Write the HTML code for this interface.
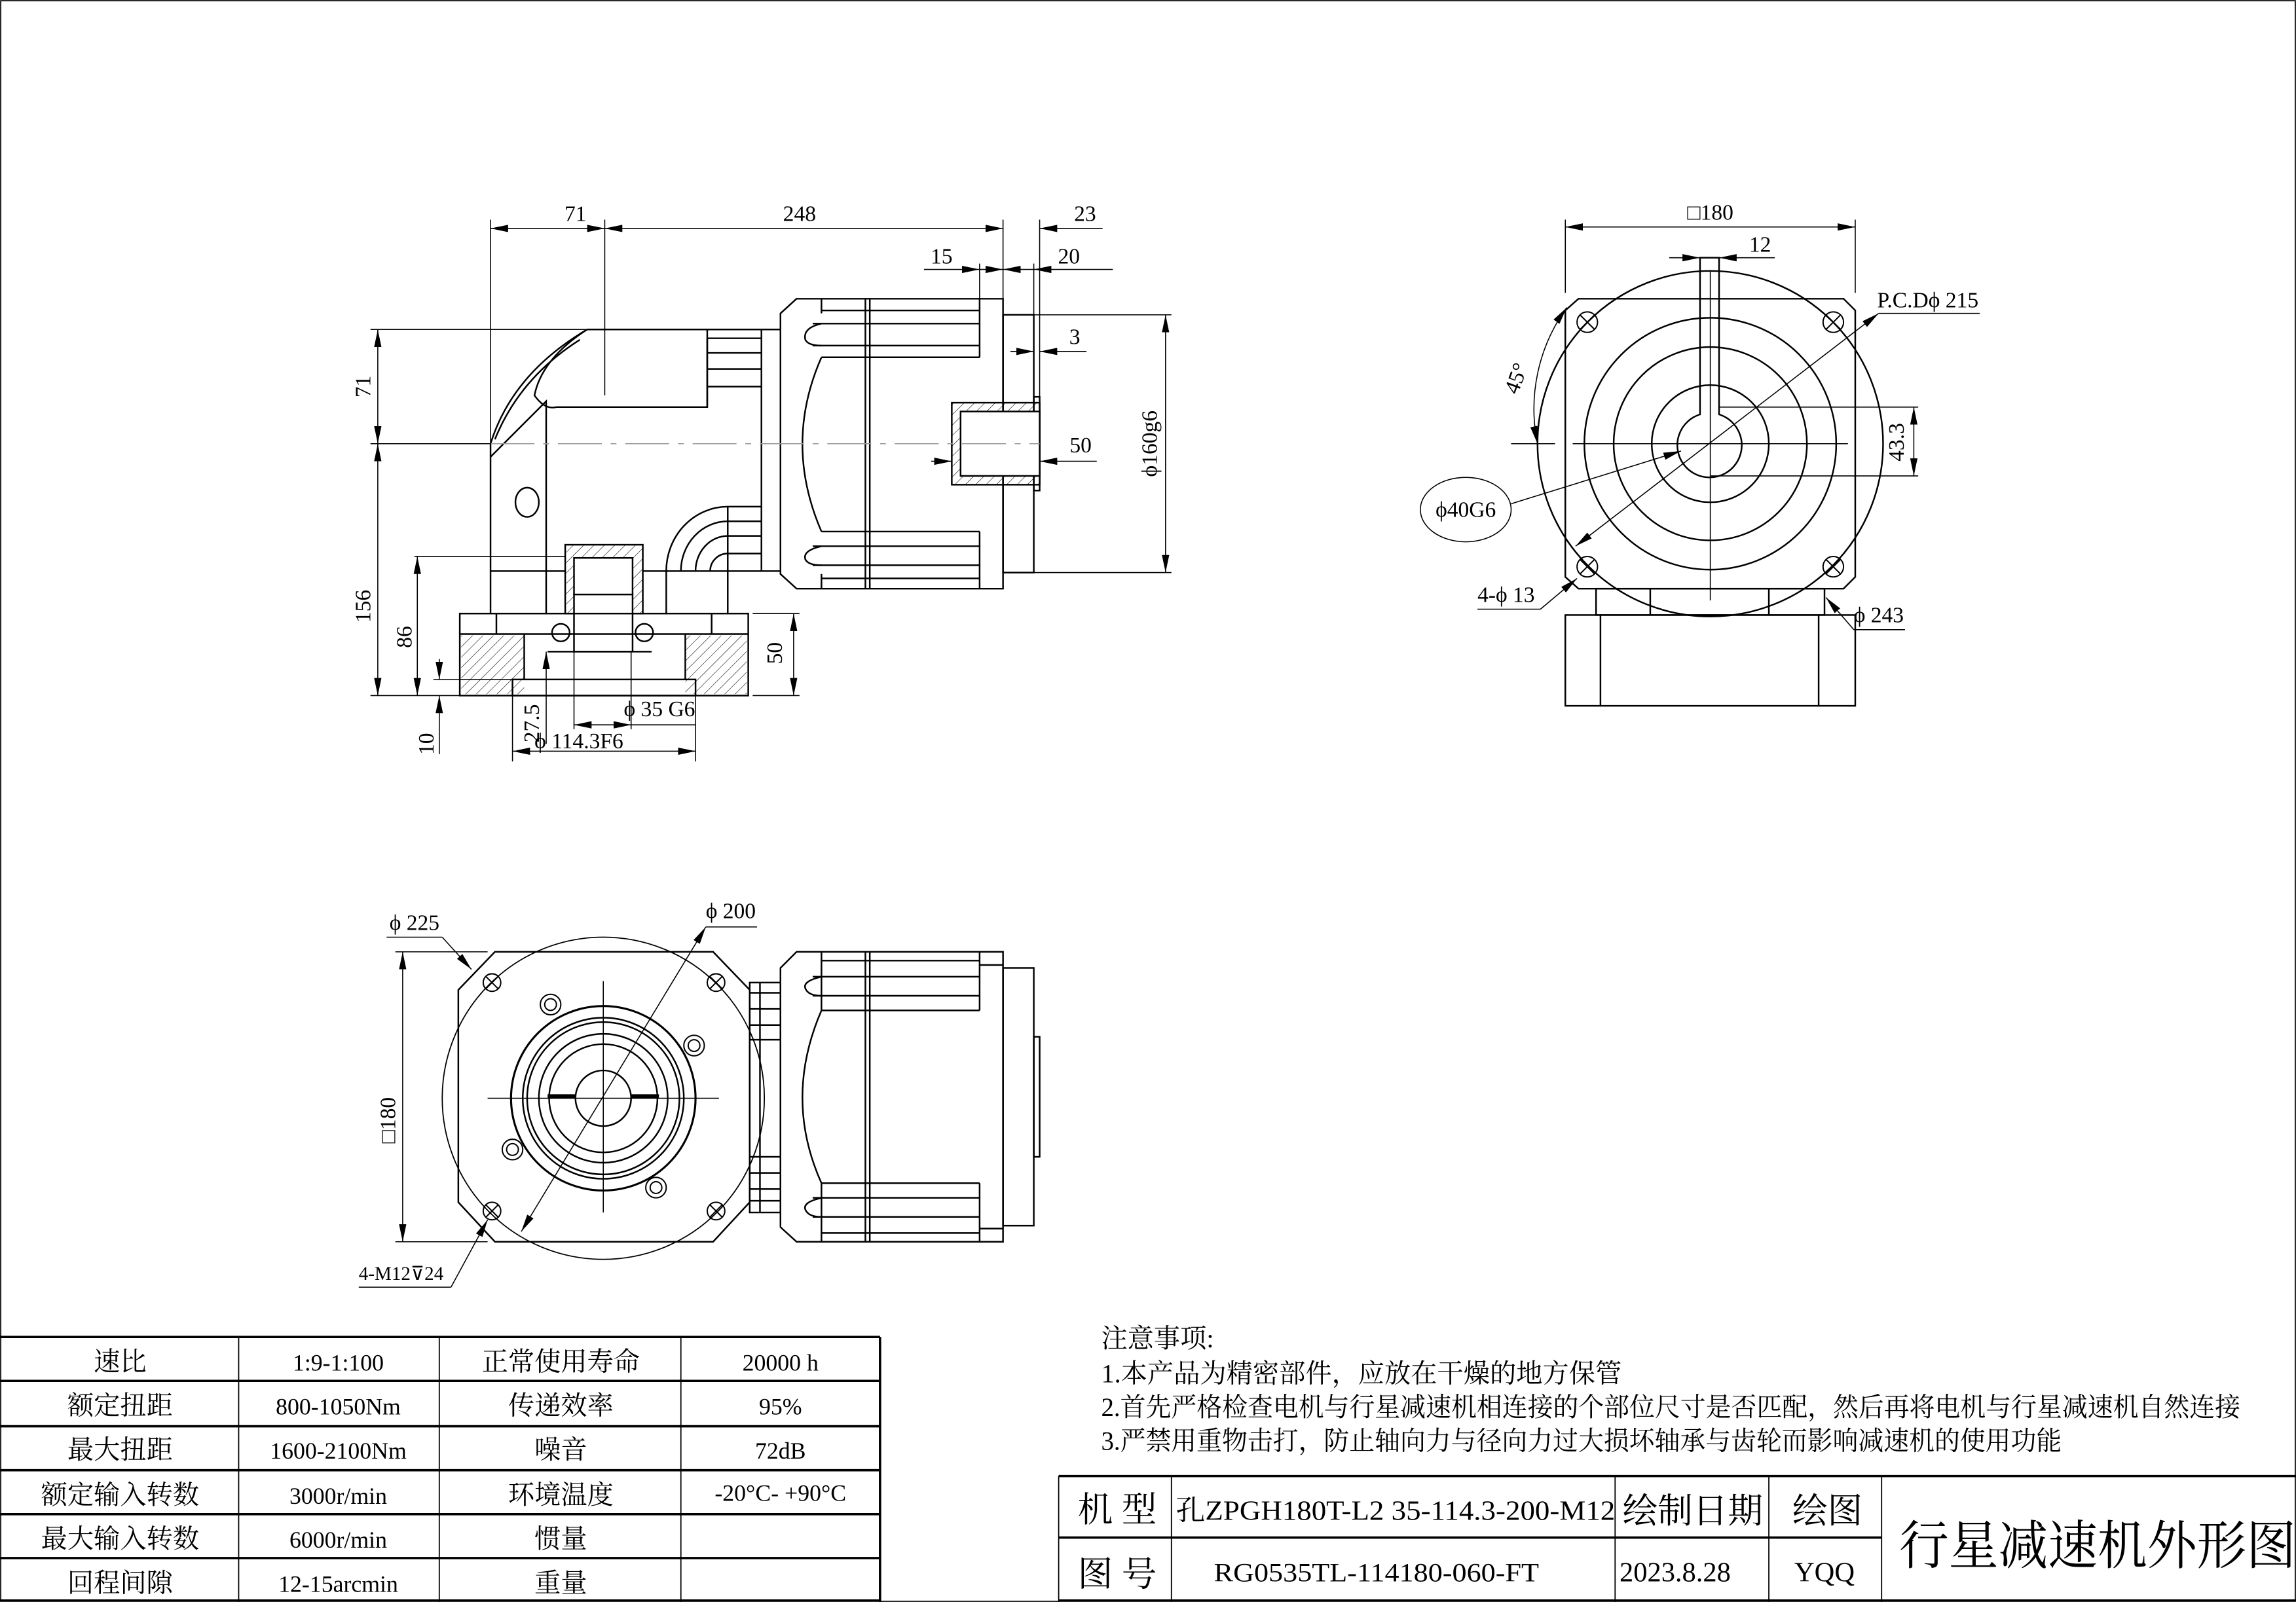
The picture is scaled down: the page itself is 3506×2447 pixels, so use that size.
<!DOCTYPE html>
<html><head><meta charset="utf-8"><style>
html,body{margin:0;padding:0;background:#fff}
svg{display:block}
text{font-family:"Liberation Serif","Noto Serif CJK SC","Noto Sans CJK SC",serif;fill:#000}
.c{font-family:"Liberation Sans","Noto Sans CJK SC",sans-serif}
</style></head><body>
<svg width="3506" height="2447" viewBox="0 0 1568 1094" preserveAspectRatio="none" xmlns="http://www.w3.org/2000/svg">
<defs>
<marker id="a" markerUnits="userSpaceOnUse" markerWidth="12" markerHeight="6" refX="12" refY="3" orient="auto-start-reverse"><path d="M0,0.5 L12,3 L0,5.5z" fill="#000"/></marker>
<pattern id="h" patternUnits="userSpaceOnUse" width="5" height="5" patternTransform="rotate(45)"><line x1="0" y1="0" x2="0" y2="5" stroke="#000" stroke-width="0.5"/></pattern>
</defs>
<rect x="0.5" y="0.5" width="1567" height="1093" fill="none" stroke="#000" stroke-width="0.8"/>
<g fill="none" stroke="#000" stroke-width="1.1">
<!-- ===== TOP-LEFT SIDE VIEW ===== -->
<!-- elbow housing -->
<path d="M335,390 L335,303 Q350,255 401,225 L520,225 L520,390"/>
<path d="M338,300 Q355,258 396,232"/>
<path d="M335,312 L373,274 L373,390"/>
<path d="M401,225 Q370,245 365,270 Q372,280 380,278 L483,278 L483,225"/>
<path d="M483,231 L520,231 M483,241 L520,241 M483,252 L520,252 M483,264 L520,264 M483,231 L483,278"/>
<ellipse cx="360" cy="343" rx="8" ry="10"/>
<line x1="335" y1="390" x2="386" y2="390"/>
<line x1="439" y1="390" x2="520" y2="390"/>
<!-- lower elbow -->
<path d="M455,390 A42,44 0 0 1 497,346 L520,346"/>
<path d="M465,390 A32,34 0 0 1 497,356 L520,356"/>
<path d="M475,390 A22,24 0 0 1 497,366 L520,366"/>
<path d="M485,390 A12,12 0 0 1 497,378 L520,378"/>
<line x1="497" y1="346" x2="497" y2="390"/>
<line x1="455" y1="390" x2="455" y2="419"/>
<line x1="497" y1="390" x2="497" y2="419"/>
<line x1="335" y1="390" x2="335" y2="419"/>
<line x1="373" y1="390" x2="373" y2="419"/>
<!-- output shaft block -->
<rect x="386" y="372" width="53" height="47" fill="url(#h)"/>
<rect x="392" y="381" width="40" height="25" fill="#fff"/>
<rect x="392" y="406" width="40" height="39" fill="#fff"/>
<!-- base -->
<rect x="314" y="419" width="197" height="56"/>
<line x1="314" y1="433" x2="511" y2="433"/>
<line x1="339" y1="419" x2="339" y2="433"/>
<line x1="486" y1="419" x2="486" y2="433"/>
<rect x="315" y="434" width="43" height="40" fill="url(#h)" stroke="none"/>
<rect x="468" y="434" width="42" height="40" fill="url(#h)" stroke="none"/>
<line x1="358" y1="433" x2="358" y2="464"/>
<line x1="468" y1="433" x2="468" y2="464"/>
<rect x="350" y="464" width="125" height="11"/>
<line x1="374" y1="445" x2="445" y2="445"/>
<circle cx="383" cy="432" r="6"/><circle cx="440" cy="432" r="6"/>
<!-- flange & motor section -->
<path d="M544,204 L533,214 L533,392 L544,402 L685,402 L685,204 Z"/>
<line x1="591" y1="204" x2="591" y2="402"/><line x1="594" y1="204" x2="594" y2="402"/>
<path d="M561,204 L561,214 M561,402 L561,392"/>
<path d="M561,212 L669,212 M555,221 L669,221 M555,236 L669,236 M561,244 L669,244 M669,204 L669,244"/>
<path d="M561,221 Q548,224 550,232 Q552,236 561,236"/>
<path d="M561,363 L669,363 M555,373 L669,373 M555,386 L669,386 M561,395 L669,395 M669,363 L669,402"/>
<path d="M561,373 Q548,376 550,382 Q552,386 561,386"/>
<path d="M561,244 Q535,303 561,363"/>
<line x1="520" y1="225" x2="533" y2="225"/><line x1="520" y1="390" x2="533" y2="390"/>
<!-- output flange -->
<rect x="685" y="215" width="21" height="176"/>
<rect x="706" y="271" width="4" height="64"/>
<rect x="650" y="275" width="60" height="56" fill="url(#h)"/>
<rect x="656" y="281" width="54" height="44" fill="#fff"/>
</g>
<line x1="335" y1="303" x2="710" y2="303" stroke="#999" stroke-width="0.7" stroke-dasharray="30,6,4,6"/>
<g fill="none" stroke="#000" stroke-width="0.7">
<!-- top dims -->
<line x1="335" y1="150" x2="335" y2="303"/><line x1="413" y1="150" x2="413" y2="270"/>
<line x1="685" y1="150" x2="685" y2="204"/><line x1="710" y1="150" x2="710" y2="271"/>
<line x1="669" y1="180" x2="669" y2="212"/><line x1="706" y1="180" x2="706" y2="215"/>
<line x1="335" y1="156" x2="413" y2="156" marker-start="url(#a)" marker-end="url(#a)"/>
<line x1="413" y1="156" x2="685" y2="156" marker-start="url(#a)" marker-end="url(#a)"/>
<line x1="753" y1="156" x2="710" y2="156" marker-end="url(#a)"/>
<line x1="631" y1="184" x2="669" y2="184" marker-end="url(#a)"/>
<line x1="669" y1="184" x2="685" y2="184" marker-end="url(#a)"/>
<line x1="685" y1="184" x2="706" y2="184" marker-start="url(#a)"/>
<line x1="760" y1="184" x2="706" y2="184" marker-end="url(#a)"/>
<line x1="690" y1="240" x2="706" y2="240" marker-end="url(#a)"/>
<line x1="742" y1="240" x2="710" y2="240" marker-end="url(#a)"/>
<line x1="636" y1="315" x2="650" y2="315" marker-end="url(#a)"/>
<line x1="749" y1="315" x2="710" y2="315" marker-end="url(#a)"/>
<line x1="706" y1="215" x2="800" y2="215"/><line x1="706" y1="391" x2="800" y2="391"/>
<line x1="796" y1="215" x2="796" y2="391" marker-start="url(#a)" marker-end="url(#a)"/>
<!-- left dims -->
<line x1="253" y1="225" x2="401" y2="225"/><line x1="253" y1="303" x2="335" y2="303"/>
<line x1="253" y1="475" x2="314" y2="475"/>
<line x1="258" y1="225" x2="258" y2="303" marker-start="url(#a)" marker-end="url(#a)"/>
<line x1="258" y1="303" x2="258" y2="475" marker-start="url(#a)" marker-end="url(#a)"/>
<line x1="283" y1="380" x2="386" y2="380"/>
<line x1="285" y1="380" x2="285" y2="475" marker-start="url(#a)" marker-end="url(#a)"/>
<line x1="296" y1="464" x2="350" y2="464"/>
<line x1="300" y1="450" x2="300" y2="464" marker-end="url(#a)"/>
<line x1="300" y1="490" x2="300" y2="475" marker-end="url(#a)"/>
<line x1="300" y1="490" x2="300" y2="515"/>
<line x1="373" y1="508" x2="373" y2="445" marker-end="url(#a)"/>
<line x1="350" y1="475" x2="350" y2="520"/><line x1="475" y1="475" x2="475" y2="520"/>
<line x1="392" y1="445" x2="392" y2="498"/><line x1="431" y1="445" x2="431" y2="498"/>
<line x1="392" y1="495" x2="431" y2="495" marker-start="url(#a)" marker-end="url(#a)"/>
<line x1="431" y1="495" x2="475" y2="495"/>
<line x1="350" y1="513" x2="475" y2="513" marker-start="url(#a)" marker-end="url(#a)"/>
<line x1="514" y1="419" x2="546" y2="419"/><line x1="514" y1="475" x2="546" y2="475"/>
<line x1="542" y1="419" x2="542" y2="475" marker-start="url(#a)" marker-end="url(#a)"/>
</g>
<g font-size="15">
<text x="393" y="151" text-anchor="middle">71</text>
<text x="546" y="151" text-anchor="middle">248</text>
<text x="741" y="151" text-anchor="middle">23</text>
<text x="643" y="180" text-anchor="middle">15</text>
<text x="730" y="180" text-anchor="middle">20</text>
<text x="734" y="235" text-anchor="middle">3</text>
<text x="738" y="309" text-anchor="middle">50</text>
<text transform="translate(790,303) rotate(-90)" text-anchor="middle">ϕ160g6</text>
<text transform="translate(253,264) rotate(-90)" text-anchor="middle">71</text>
<text transform="translate(253,414) rotate(-90)" text-anchor="middle">156</text>
<text transform="translate(281,435) rotate(-90)" text-anchor="middle">86</text>
<text transform="translate(296,508) rotate(-90)" text-anchor="middle">10</text>
<text transform="translate(368,494) rotate(-90)" text-anchor="middle">27.5</text>
<text transform="translate(534,446) rotate(-90)" text-anchor="middle">50</text>
<text x="426" y="489">ϕ 35 G6</text>
<text x="365" y="511">ϕ 114.3F6</text>
</g>

<!-- ===== TOP-RIGHT FRONT VIEW ===== -->
<g fill="none" stroke="#000" stroke-width="1.1">
<path d="M1078,204 L1259,204 L1267,212 L1267,394 L1259,402 L1078,402 L1069,394 L1069,212 Z"/>
<circle cx="1168" cy="303" r="118"/>
<circle cx="1168" cy="303" r="86"/>
<circle cx="1168" cy="303" r="66"/>
<circle cx="1168" cy="303" r="40"/>
<path d="M1161,283 A22,22 0 1 0 1174,283 L1174,176 L1161,176 Z"/>
<rect x="1090" y="402" width="156" height="18"/>
<line x1="1127" y1="402" x2="1127" y2="420"/><line x1="1208" y1="402" x2="1208" y2="420"/>
<rect x="1069" y="420" width="198" height="62"/>
<line x1="1093" y1="420" x2="1093" y2="482"/><line x1="1242" y1="420" x2="1242" y2="482"/>
<g stroke-width="0.9">
<circle cx="1084" cy="220" r="7"/><path d="M1079,215 L1089,225 M1089,215 L1079,225"/>
<circle cx="1252" cy="220" r="7"/><path d="M1247,215 L1257,225 M1257,215 L1247,225"/>
<circle cx="1084" cy="387" r="7"/><path d="M1079,382 L1089,392 M1089,382 L1079,392"/>
<circle cx="1252" cy="387" r="7"/><path d="M1247,382 L1257,392 M1257,382 L1247,392"/>
</g>
</g>
<g fill="none" stroke="#000" stroke-width="0.7">
<path d="M1032,303 L1062,303 M1074,303 L1262,303 M1168,185 L1168,410"/>
<line x1="1069" y1="150" x2="1069" y2="200"/><line x1="1267" y1="150" x2="1267" y2="200"/>
<line x1="1069" y1="155" x2="1267" y2="155" marker-start="url(#a)" marker-end="url(#a)"/>
<line x1="1140" y1="176" x2="1161" y2="176" marker-end="url(#a)"/>
<line x1="1212" y1="176" x2="1174" y2="176" marker-end="url(#a)"/>
<path d="M1174,278 L1310,278 M1168,325 L1310,325"/>
<line x1="1307" y1="278" x2="1307" y2="325" marker-start="url(#a)" marker-end="url(#a)"/>
<line x1="1076" y1="373" x2="1283" y2="214" marker-start="url(#a)" marker-end="url(#a)"/>
<line x1="1283" y1="214" x2="1352" y2="214"/>
<path d="M1070,210 A118,118 0 0 0 1050,303" marker-start="url(#a)" marker-end="url(#a)"/>
<ellipse cx="1001" cy="348" rx="31" ry="22"/>
<line x1="1032" y1="344" x2="1148" y2="308" marker-end="url(#a)"/>
<line x1="1009" y1="416" x2="1052" y2="416"/><line x1="1052" y1="416" x2="1077" y2="395" marker-end="url(#a)"/>
<line x1="1301" y1="430" x2="1266" y2="430"/><line x1="1266" y1="430" x2="1247" y2="408" marker-end="url(#a)"/>
</g>
<g font-size="15">
<text x="1168" y="150" text-anchor="middle">□180</text>
<text x="1202" y="172" text-anchor="middle">12</text>
<text x="1282" y="210">P.C.Dϕ 215</text>
<text transform="translate(1300,302) rotate(-90)" text-anchor="middle">43.3</text>
<text transform="translate(1040,260) rotate(-70)" text-anchor="middle">45°</text>
<text x="1001" y="353" text-anchor="middle">ϕ40G6</text>
<text x="1009" y="411">4-ϕ 13</text>
<text x="1266" y="425">ϕ 243</text>
</g>

<!-- ===== BOTTOM-LEFT VIEW ===== -->
<g fill="none" stroke="#000" stroke-width="1.1">
<path d="M338,650 L487,650 L512,676 L512,821 L487,848 L338,848 L313,821 L313,676 Z"/>
<circle cx="412" cy="750" r="110" stroke-width="0.8"/>
<circle cx="412" cy="750" r="63" stroke-width="1.4"/>
<circle cx="412" cy="750" r="55"/>
<circle cx="412" cy="750" r="52"/>
<circle cx="412" cy="750" r="44"/>
<circle cx="412" cy="750" r="37"/>
<circle cx="412" cy="750" r="19"/>
<line x1="374" y1="748.5" x2="393" y2="748.5" stroke-width="2.5"/>
<line x1="431" y1="748.5" x2="450" y2="748.5" stroke-width="2.5"/>
<g stroke-width="0.9">
<circle cx="336" cy="671" r="6"/><path d="M332,667 L340,675 M340,667 L332,675"/>
<circle cx="489" cy="671" r="6"/><path d="M485,667 L493,675 M493,667 L485,675"/>
<circle cx="336" cy="827" r="6"/><path d="M332,823 L340,831 M340,823 L332,831"/>
<circle cx="489" cy="827" r="6"/><path d="M485,823 L493,831 M493,823 L485,831"/>
<circle cx="376" cy="686" r="7"/><circle cx="376" cy="686" r="4"/>
<circle cx="474" cy="714" r="7"/><circle cx="474" cy="714" r="4"/>
<circle cx="350" cy="785" r="7"/><circle cx="350" cy="785" r="4"/>
<circle cx="448" cy="811" r="7"/><circle cx="448" cy="811" r="4"/>
</g>
<!-- connector -->
<rect x="512" y="671" width="21" height="157"/>
<line x1="519" y1="671" x2="519" y2="828"/>
<path d="M512,678 L533,678 M512,689 L533,689 M512,700 L533,700 M512,710 L533,710 M512,790 L533,790 M512,801 L533,801 M512,812 L533,812 M512,820 L533,820"/>
<!-- motor section -->
<path d="M544,650 L533,661 L533,838 L544,848 L685,848 L685,650 Z"/>
<line x1="591" y1="650" x2="591" y2="848"/><line x1="594" y1="650" x2="594" y2="848"/>
<path d="M561,650 L561,690 M561,808 L561,848"/>
<path d="M561,656 L669,656 M555,667 L669,667 M555,680 L669,680 M561,690 L669,690 M669,650 L669,690 M669,659 L685,659"/>
<path d="M561,667 Q548,670 550,675 Q552,680 561,680"/>
<path d="M561,808 L669,808 M555,818 L669,818 M555,831 L669,831 M561,842 L669,842 M669,808 L669,848 M669,839 L685,839"/>
<path d="M561,818 Q548,821 550,826 Q552,831 561,831"/>
<path d="M561,690 Q535,750 561,808"/>
<rect x="685" y="661" width="21" height="176"/>
<rect x="706" y="708" width="4" height="82"/>
</g>
<g fill="none" stroke="#000" stroke-width="0.7">
<path d="M333,750 L491,750 M412,670 L412,828"/>
<line x1="270" y1="650" x2="333" y2="650"/><line x1="270" y1="848" x2="333" y2="848"/>
<line x1="275" y1="650" x2="275" y2="848" marker-start="url(#a)" marker-end="url(#a)"/>
<line x1="264" y1="640" x2="302" y2="640"/><line x1="302" y1="640" x2="322" y2="662" marker-end="url(#a)"/>
<line x1="356" y1="841" x2="482" y2="633" marker-start="url(#a)" marker-end="url(#a)"/>
<line x1="482" y1="633" x2="517" y2="633"/>
<line x1="245" y1="879" x2="308" y2="879"/><line x1="308" y1="879" x2="333" y2="833" marker-end="url(#a)"/>
</g>
<g font-size="15">
<text x="266" y="635">ϕ 225</text>
<text x="482" y="627">ϕ 200</text>
<text transform="translate(270,765) rotate(-90)" text-anchor="middle">□180</text>
<text x="245" y="874" font-size="13">4-M12⊽24</text>
</g>

<!-- ===== PARAMETER TABLE ===== -->
<g fill="none" stroke="#000">
<line x1="0" y1="913" x2="601" y2="913" stroke-width="1.6"/>
<line x1="0" y1="943" x2="601" y2="943" stroke-width="1.6"/>
<line x1="0" y1="974" x2="601" y2="974" stroke-width="1.6"/>
<line x1="0" y1="1004" x2="601" y2="1004" stroke-width="1.6"/>
<line x1="0" y1="1034" x2="601" y2="1034" stroke-width="1.6"/>
<line x1="0" y1="1064" x2="601" y2="1064" stroke-width="1.6"/>
<line x1="0" y1="1093" x2="601" y2="1093" stroke-width="1.6"/>
<line x1="163" y1="913" x2="163" y2="1094" stroke-width="0.8"/>
<line x1="300" y1="913" x2="300" y2="1094" stroke-width="0.8"/>
<line x1="465" y1="913" x2="465" y2="1094" stroke-width="0.8"/>
<line x1="601" y1="913" x2="601" y2="1094" stroke-width="1.6"/>
</g>
<g font-size="18" text-anchor="middle">
<text x="82" y="936">速比</text><text x="231" y="936" font-size="16">1:9-1:100</text><text x="383" y="936">正常使用寿命</text><text x="533" y="936" font-size="16">20000 h</text>
<text x="82" y="966">额定扭距</text><text x="231" y="966" font-size="16">800-1050Nm</text><text x="383" y="966">传递效率</text><text x="533" y="966" font-size="16">95%</text>
<text x="82" y="996">最大扭距</text><text x="231" y="996" font-size="16">1600-2100Nm</text><text x="383" y="996">噪音</text><text x="533" y="996" font-size="16">72dB</text>
<text x="82" y="1027">额定输入转数</text><text x="231" y="1027" font-size="16">3000r/min</text><text x="383" y="1027">环境温度</text><text x="533" y="1025" font-size="16">-20°C- +90°C</text>
<text x="82" y="1057">最大输入转数</text><text x="231" y="1057" font-size="16">6000r/min</text><text x="383" y="1057">惯量</text>
<text x="82" y="1087">回程间隙</text><text x="231" y="1087" font-size="16">12-15arcmin</text><text x="383" y="1087">重量</text>
</g>

<!-- ===== NOTES ===== -->
<g font-size="18">
<text x="752" y="920">注意事项:</text>
<text x="752" y="944">1.本产品为精密部件，应放在干燥的地方保管</text>
<text x="752" y="967" textLength="778" lengthAdjust="spacingAndGlyphs">2.首先严格检查电机与行星减速机相连接的个部位尺寸是否匹配，然后再将电机与行星减速机自然连接</text>
<text x="752" y="990" textLength="656" lengthAdjust="spacingAndGlyphs">3.严禁用重物击打，防止轴向力与径向力过大损坏轴承与齿轮而影响减速机的使用功能</text>
</g>

<!-- ===== TITLE BLOCK ===== -->
<g fill="none" stroke="#000">
<line x1="723" y1="1008" x2="1568" y2="1008" stroke-width="1.6"/>
<line x1="723" y1="1050" x2="1285" y2="1050" stroke-width="1.6"/>
<line x1="723" y1="1093" x2="1568" y2="1093" stroke-width="1.6"/>
<line x1="723" y1="1008" x2="723" y2="1094" stroke-width="0.8"/>
<line x1="800" y1="1008" x2="800" y2="1094" stroke-width="0.8"/>
<line x1="1103" y1="1008" x2="1103" y2="1094" stroke-width="0.8"/>
<line x1="1208" y1="1008" x2="1208" y2="1094" stroke-width="0.8"/>
<line x1="1285" y1="1008" x2="1285" y2="1094" stroke-width="0.8"/>
</g>
<g font-size="24">
<text x="736" y="1039">机 型</text>
<text x="736" y="1083">图 号</text>
<text x="803" y="1038" font-size="19" textLength="300" lengthAdjust="spacingAndGlyphs">孔ZPGH180T-L2 35-114.3-200-M12</text>
<text x="1108" y="1040" textLength="96" lengthAdjust="spacingAndGlyphs">绘制日期</text>
<text x="1224" y="1040">绘图</text>
<text x="829" y="1080" font-size="18" textLength="222" lengthAdjust="spacingAndGlyphs">RG0535TL-114180-060-FT</text>
<text x="1106" y="1080" font-size="19">2023.8.28</text>
<text x="1246" y="1080" font-size="19" text-anchor="middle">YQQ</text>
<text x="1297" y="1068" font-size="36" textLength="271" lengthAdjust="spacingAndGlyphs">行星减速机外形图</text>
</g>
</svg>
</body></html>
